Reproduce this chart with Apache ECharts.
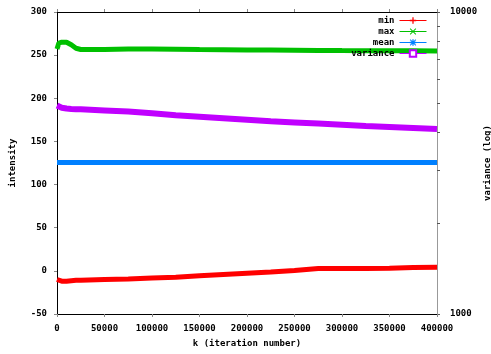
<!DOCTYPE html>
<html><head><meta charset="utf-8">
<script src="https://cdn.jsdelivr.net/npm/echarts@6/dist/echarts.min.js"></script>
<style>html,body{margin:0;padding:0;background:#fff}#c{width:491px;height:354px}</style>
</head><body><div id="c"></div>
<script>
const kValues = [0, 2000, 5000, 10000, 15000, 20000, 25000, 50000, 75000, 100000, 125000, 150000, 175000, 200000, 225000, 250000, 275000, 300000, 325000, 350000, 375000, 400000];
const minValues = [-10, -11, -12, -12, -11.5, -11, -10.8, -10, -9.3, -8.3, -7.3, -5.8, -4.3, -2.8, -1.3, 0.5, 2.6, 2.8, 2.8, 2.9, 4, 4.2];
const maxValues = [257, 264, 265, 265, 262, 258, 256.5, 256.5, 257, 257, 256.8, 256.5, 256.3, 256, 256, 255.8, 255.5, 255.3, 255.2, 255, 255, 254.8];
const meanValues = [125.5, 125.5, 125.5, 125.5, 125.5, 125.5, 125.5, 125.5, 125.5, 125.5, 125.5, 125.5, 125.5, 125.5, 125.5, 125.5, 125.5, 125.5, 125.5, 125.5, 125.5, 125.5];
const varianceValues = [4900, 4850, 4820, 4790, 4775, 4765, 4760, 4720, 4680, 4620, 4550, 4500, 4450, 4400, 4350, 4310, 4270, 4230, 4190, 4160, 4130, 4095];
const seriesNames = ['min', 'max', 'mean', 'variance'];
const rightMinorTicks = [1000, 2000, 3000, 4000, 5000, 6000, 7000, 8000, 9000, 10000];
const rightLabels = [1000, 10000];

const FONT = 'DejaVu Sans Mono';
const pair = (ys) => kValues.map((k, i) => [k, ys[i]]);
const plain = (v) => String(Math.round(v));
const chart = echarts.init(document.getElementById('c'), null, {renderer: 'canvas'});
const lbl = {color: '#000', fontFamily: FONT, fontWeight: 'bold', fontSize: 9};
chart.setOption({
  animation: false,
  backgroundColor: '#fff',
  grid: {left: 57, right: 54, top: 12, bottom: 40, containLabel: false, outerBoundsMode: 'none'},
  legend: {
    right: 64, top: 16, orient: 'vertical', align: 'right', padding: 0,
    itemWidth: 27, itemHeight: 8, itemGap: 2,
    textStyle: {color: '#000', fontFamily: FONT, fontWeight: 'bold', fontSize: 9},
    lineStyle: {width: 1},
    formatter: (n) => n.padStart(8, ' '),
    data: seriesNames
  },
  xAxis: [{
    type: 'value', min: 0, max: 400000, interval: 50000,
    name: 'k (iteration number)', nameLocation: 'middle', nameGap: 25,
    nameTextStyle: lbl,
    axisLine: {onZero: false, lineStyle: {color: '#000', width: 1}},
    axisTick: {inside: false, length: 3, lineStyle: {color: '#888'}},
    axisLabel: Object.assign({margin: 10, formatter: plain}, lbl),
    splitLine: {show: false}
  }, {
    type: 'value', min: 0, max: 400000, interval: 50000, position: 'top',
    axisLine: {onZero: false, lineStyle: {color: '#000', width: 1}},
    axisTick: {inside: false, length: 3, lineStyle: {color: '#888'}},
    axisLabel: {show: false}, splitLine: {show: false}
  }],
  yAxis: [{
    type: 'value', min: -50, max: 300, interval: 50,
    name: 'intensity', nameLocation: 'middle', nameGap: 40, nameRotate: 90,
    nameTextStyle: lbl,
    axisLine: {show: true, onZero: false, lineStyle: {color: '#000', width: 1}},
    axisTick: {show: true, inside: false, length: 3, lineStyle: {color: '#888'}},
    axisLabel: Object.assign({margin: 10, formatter: plain}, lbl),
    splitLine: {show: false}
  }, {
    type: 'log', logBase: 10, min: 1000, max: 10000, position: 'right',
    name: 'variance (log)', nameLocation: 'middle', nameGap: 46, nameRotate: 90,
    nameMoveOverlap: false,
    nameTextStyle: lbl,
    axisLine: {show: true, onZero: false, lineStyle: {color: '#999', width: 1}},
    axisTick: {show: true, inside: false, length: 3, lineStyle: {color: '#555'}, customValues: rightMinorTicks},
    axisLabel: Object.assign({margin: 13, customValues: rightLabels, formatter: plain}, lbl),
    splitLine: {show: false}
  }],
  series: [
    {name: 'min', type: 'line', data: pair(minValues), showSymbol: false,
     symbol: 'path://M4,0H6V10H4ZM0,4H10V6H0Z', symbolSize: 8,
     itemStyle: {color: '#ff0000'}, lineStyle: {color: '#ff0000', width: 5}},
    {name: 'max', type: 'line', data: pair(maxValues), showSymbol: false,
     symbol: 'path://M0,1L1,0L10,9L9,10ZM9,0L10,1L1,10L0,9Z', symbolSize: 8,
     itemStyle: {color: '#00c000'}, lineStyle: {color: '#00c000', width: 5}},
    {name: 'mean', type: 'line', data: pair(meanValues), showSymbol: false,
     symbol: 'path://M4,0H6V10H4ZM0,4H10V6H0ZM0,1L1,0L10,9L9,10ZM9,0L10,1L1,10L0,9Z', symbolSize: 8,
     itemStyle: {color: '#0080ff'}, lineStyle: {color: '#0080ff', width: 5}},
    {name: 'variance', type: 'line', yAxisIndex: 1, data: pair(varianceValues), showSymbol: false,
     symbol: 'emptyRect', symbolSize: 7,
     itemStyle: {color: '#c000ff'}, lineStyle: {color: '#c000ff', width: 6}}
  ]
});
</script></body></html>
